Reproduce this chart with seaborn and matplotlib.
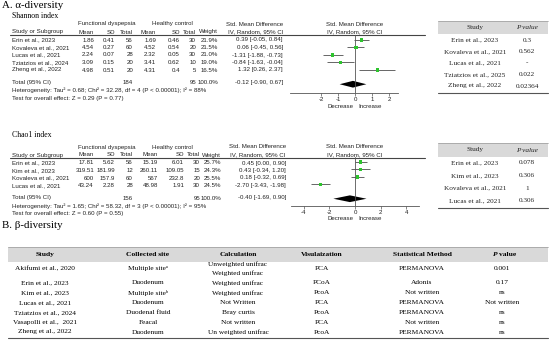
import numpy as np
import pandas as pd
import matplotlib
matplotlib.use('Agg')
import matplotlib.pyplot as plt
from matplotlib.patches import Rectangle
import seaborn as sns

sns.set_theme(style='white')
plt.rcParams['font.family'] = ['Liberation Sans', 'DejaVu Sans']
plt.rcParams['axes.unicode_minus'] = False

# ---------------- data: Shannon index ----------------
sh_study = ['Erin et al., 2023', 'Kovaleva et al., 2021', 'Lucas et al., 2021',
            'Tziatzios et al., 2024', 'Zheng et al., 2022']
sh_fd_mean = ['1.86', '4.54', '2.24', '3.09', '4.98']
sh_fd_sd = ['0.41', '0.27', '0.07', '0.15', '0.51']
sh_fd_n = [56, 60, 28, 20, 20]
sh_hc_mean = ['1.69', '4.52', '2.32', '3.41', '4.31']
sh_hc_sd = ['0.46', '0.54', '0.05', '0.62', '0.4']
sh_hc_n = [30, 20, 30, 10, 5]
sh_weight = [21.9, 21.5, 21.0, 19.0, 16.5]
sh_smd = [0.39, 0.06, -1.31, -0.84, 1.32]
sh_lo = [-0.05, -0.45, -1.88, -1.63, 0.26]
sh_hi = [0.84, 0.56, -0.73, -0.04, 2.37]
sh_total = [-0.12, -0.90, 0.67]
sh_het = 'Heterogeneity: Tau\u00b2 = 0.68; Chi\u00b2 = 32.28, df = 4 (P < 0.00001); I\u00b2 = 88%'
sh_test = 'Test for overall effect: Z = 0.29 (P = 0.77)'
sh_tab_study = ['Erin et al., 2023', 'Kovaleva et al., 2021', 'Lucas et al., 2021',
                'Tziatzios et al., 2025', 'Zheng et al., 2022']
sh_tab_p = ['0.3', '0.562', '-', '0.022', '0.02364']

# ---------------- data: Chao1 index ----------------
ch_study = ['Erin et al., 2023', 'Kim et al., 2023', 'Kovaleva et al., 2021', 'Lucas et al., 2021']
ch_fd_mean = ['17.81', '319.51', '600', '43.24']
ch_fd_sd = ['5.62', '181.99', '157.9', '2.28']
ch_fd_n = [56, 12, 60, 28]
ch_hc_mean = ['15.19', '260.11', '567', '48.98']
ch_hc_sd = ['6.01', '109.05', '232.8', '1.91']
ch_hc_n = [30, 15, 20, 30]
ch_weight = [25.7, 24.3, 25.5, 24.5]
ch_smd = [0.45, 0.43, 0.18, -2.70]
ch_lo = [0.00, -0.34, -0.32, -3.43]
ch_hi = [0.90, 1.20, 0.69, -1.98]
ch_total = [-0.40, -1.69, 0.90]
ch_het = 'Heterogeneity: Tau\u00b2 = 1.65; Chi\u00b2 = 58.32, df = 3 (P < 0.00001); I\u00b2 = 95%'
ch_test = 'Test for overall effect: Z = 0.60 (P = 0.55)'
ch_tab_study = ['Erin et al., 2023', 'Kim et al., 2023', 'Kovaleva et al., 2021', 'Lucas et al., 2021']
ch_tab_p = ['0.078', '0.306', '1', '0.306']

# ---------------- data: beta diversity table ----------------
b_study = ['Akifumi et al., 2020', 'Erin et al., 2023', 'Kim et al., 2023', 'Lucas et al., 2021',
           'Tziatzios et al., 2024', 'Vasapolli et al.,  2021', 'Zheng et al., 2022']
b_site = ['Multiple site\u1d43', 'Duodenum', 'Multiple site\u1d47', 'Duodenum',
          'Duodenal fluid', 'Feacal', 'Duodenum']
b_calc = ['Unweighted unifrac\nWeighted unifrac', 'Weighted unifrac', 'Weighted unifrac',
          'Not Written', 'Bray curtis', 'Not written', 'Un weighted unifrac']
b_vis = ['PCA', 'PCoA', 'PcoA', 'PCA', 'PcoA', 'PCA', 'PcoA']
b_stat = ['PERMANOVA', 'Adonis', 'Not written', 'PERMANOVA', 'PERMANOVA', 'Not written', 'PERMANOVA']
b_p = ['0.001', '0.17', 'ns', 'Not written', 'ns', 'ns', 'ns']

W, H = 550, 349
fig = plt.figure(figsize=(5.5, 3.49), dpi=100)
bg = fig.add_axes([0, 0, 1, 1])
bg.set_xlim(0, W)
bg.set_ylim(H, 0)
bg.axis('off')

SANS = ['Liberation Sans', 'DejaVu Sans']
SERIF = ['Liberation Serif', 'DejaVu Serif']
fs = 4.4
tc = '#222222'


def px_axes(x0, y0, x1, y1):
    return fig.add_axes([x0 / W, 1 - y1 / H, (x1 - x0) / W, (y1 - y0) / H])


def t(x, y, s, ha='left', **kw):
    kw.setdefault('family', SANS)
    kw.setdefault('fontsize', fs)
    kw.setdefault('color', tc)
    bg.text(x, y, s, ha=ha, va='center', **kw)


def fmt_ci(m, lo, hi):
    return '%.2f [%.2f, %.2f]' % (m, lo, hi)


def forest_text(y0, cols, ci_x, study, fdm, fdsd, fdn, hcm, hcsd, hcn, wt, smd, lo, hi, tot, het, test):
    # headers
    t(107, y0, 'Functional dyspepsia', ha='center')
    t(172, y0, 'Healthy control', ha='center')
    t(ci_x - 28, y0, 'Std. Mean Difference', ha='center')
    t(355, y0, 'Std. Mean Difference', ha='center')
    y1 = y0 + 8
    t(12, y1, 'Study or Subgroup')
    for x, s in zip(cols, ['Mean', 'SD', 'Total', 'Mean', 'SD', 'Total', 'Weight']):
        t(x, y1, s, ha='right')
    t(ci_x, y1, 'IV, Random, 95% CI', ha='right')
    t(355, y1, 'IV, Random, 95% CI', ha='center')
    bg.plot([10, 425], [y1 + 3, y1 + 3], color='#444', lw=0.8)
    rows = y1 + 8 + 7.5 * np.arange(len(study))
    for i, y in enumerate(rows):
        t(12, y, study[i])
        vals = [fdm[i], fdsd[i], str(fdn[i]), hcm[i], hcsd[i], str(hcn[i]), '%.1f%%' % wt[i]]
        for x, s in zip(cols, vals):
            t(x, y, s, ha='right')
        t(ci_x, y, fmt_ci(smd[i], lo[i], hi[i]), ha='right')
    yt = rows[-1] + 12.5
    t(12, yt, 'Total (95% CI)')
    t(cols[2], yt, str(sum(fdn)), ha='right')
    t(cols[5], yt, str(sum(hcn)), ha='right')
    t(cols[6], yt, '%.1f%%' % 100, ha='right')
    t(ci_x, yt, fmt_ci(*tot), ha='right')
    t(12, yt + 8, het)
    t(12, yt + 16, test)


def forest(ax, smd, lo, hi, tot, xlim, ticks, ybottom):
    n = len(smd)
    df = pd.DataFrame({'smd': smd, 'pos': np.arange(n)})
    ax.hlines(df['pos'], lo, hi, color='#666666', lw=0.7)
    sns.scatterplot(data=df, x='smd', y='pos', marker='s', s=6, color='#2ec42e',
                    edgecolor='none', ax=ax, legend=False, zorder=3)
    ty = n + 0.9
    ax.fill([tot[1], tot[0], tot[2], tot[0]], [ty, ty - 0.45, ty, ty + 0.45], color='black', lw=0)
    ax.axvline(0, color='#555555', lw=0.6)
    ax.set_xlim(xlim)
    ax.set_ylim(ybottom, -0.667)
    ax.patch.set_alpha(0)
    for sp in ['top', 'left', 'right']:
        ax.spines[sp].set_visible(False)
    ax.spines['bottom'].set_color('#555555')
    ax.spines['bottom'].set_linewidth(0.6)
    ax.set_xticks(ticks)
    ax.set_xticklabels([str(v) for v in ticks])
    ax.set_yticks([])
    ax.set_xlabel('')
    ax.set_ylabel('')
    ax.tick_params(axis='x', bottom=True, length=2, width=0.5, color='#555555',
                   labelsize=fs, labelcolor=tc, pad=1)


def p_table(yb0, yb1, rows, study, pv, ybot):
    bg.add_patch(Rectangle((438, yb0), 110, yb1 - yb0, color='#d9d9d9', lw=0))
    bg.plot([438, 548], [yb0, yb0], color='#999', lw=0.5)
    t(475, (yb0 + yb1) / 2, 'Study', ha='center', family=SERIF, fontsize=5.2)
    t(527, (yb0 + yb1) / 2, 'P value', ha='center', family=SERIF, fontsize=5.2, style='italic')
    for y, s, p in zip(rows, study, pv):
        t(475, y, s, ha='center', family=SERIF, fontsize=5.2)
        t(527, y, p, ha='center', family=SERIF, fontsize=5.2)
    bg.plot([438, 548], [ybot, ybot], color='#555', lw=0.8)


# ---------------- A ----------------
t(2, 6, 'A. \u03b1-diversity', family=SERIF, fontsize=7.8, color='black')
t(12, 16, 'Shannon index', family=SERIF, fontsize=5.6, color='black')
forest_text(24, [94, 115, 133, 156, 180, 196, 218], 283, sh_study, sh_fd_mean, sh_fd_sd, sh_fd_n,
            sh_hc_mean, sh_hc_sd, sh_hc_n, sh_weight, sh_smd, sh_lo, sh_hi, sh_total, sh_het, sh_test)
ax1 = px_axes(290, 35, 398, 93)
forest(ax1, sh_smd, sh_lo, sh_hi, sh_total, (-3.82, 2.53), [-2, -1, 0, 1, 2], 7.07)
t(353, 106, 'Decrease', ha='right')
t(358, 106, 'Increase', ha='left')
p_table(21, 34, np.linspace(40, 86, 5), sh_tab_study, sh_tab_p, 93)

t(12, 135, 'Chao1 index', family=SERIF, fontsize=5.6, color='black')
forest_text(147, [94, 115, 133, 158, 184, 200, 221], 286, ch_study, ch_fd_mean, ch_fd_sd, ch_fd_n,
            ch_hc_mean, ch_hc_sd, ch_hc_n, ch_weight, ch_smd, ch_lo, ch_hi, ch_total, ch_het, ch_test)
ax2 = px_axes(291, 157, 419, 206)
forest(ax2, ch_smd, ch_lo, ch_hi, ch_total, (-5, 5), [-4, -2, 0, 2, 4], 5.87)
t(353, 219, 'Decrease', ha='right')
t(358, 219, 'Increase', ha='left')
p_table(143, 157, np.linspace(163, 201, 4), ch_tab_study, ch_tab_p, 208)

# ---------------- B ----------------
t(2, 226, 'B. \u03b2-diversity', family=SERIF, fontsize=7.8, color='black')
bg.add_patch(Rectangle((8, 247), 540, 15, color='#d9d9d9', lw=0))
bg.plot([8, 548], [247, 247], color='#999', lw=0.5)
xc = [45, 148, 238, 322, 422, 502]
for x, s in zip(xc[:5], ['Study', 'Collected site', 'Calculation', 'Visulaization', 'Statistical Method']):
    t(x, 254.5, s, ha='center', family=SERIF, fontsize=5.4, weight='bold', color='black')
t(497.5, 254.5, 'P', ha='right', family=SERIF, fontsize=5.4, weight='bold', style='italic', color='black')
t(499, 254.5, 'value', ha='left', family=SERIF, fontsize=5.4, weight='bold', color='black')
ys = [268.5] + list(283 + 9.8 * np.arange(6))
for i, y in enumerate(ys):
    row = [b_study[i], b_site[i], b_calc[i], b_vis[i], b_stat[i], b_p[i]]
    for x, s in zip(xc, row):
        if '\n' in s:
            a, b2 = s.split('\n')
            t(x, y - 4.5, a, ha='center', family=SERIF, fontsize=5.3, color='black')
            t(x, y + 4.5, b2, ha='center', family=SERIF, fontsize=5.3, color='black')
        else:
            t(x, y, s, ha='center', family=SERIF, fontsize=5.3, color='black')
bg.plot([8, 548], [338, 338], color='#555', lw=0.8)

fig.savefig('out.png', dpi=100)
